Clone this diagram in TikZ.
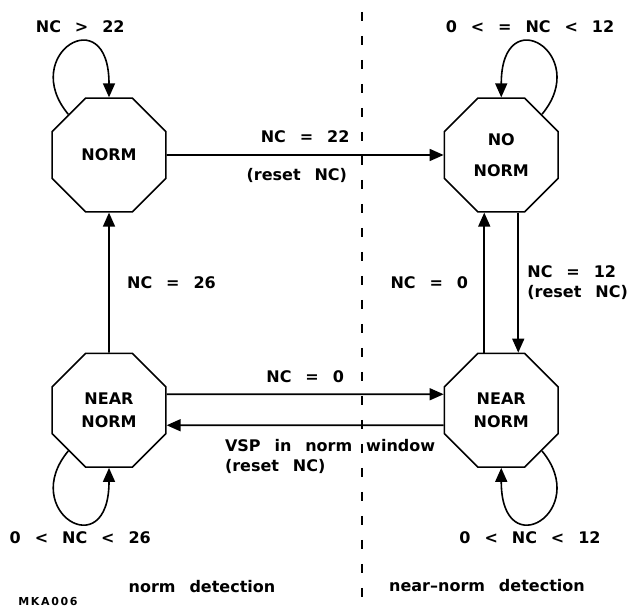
\documentclass[tikz,border=0pt]{standalone}
\usepackage{fontspec}
\setmainfont{DejaVu Sans}[WordSpace=2.5]
\newfontfamily\tagfont{DejaVu Sans}[LetterSpace=15]
\usetikzlibrary{arrows.meta,positioning,shapes.geometric}

\begin{document}
\begin{tikzpicture}[x=1pt,y=1pt,line width=1.6pt,
  state/.style={draw,regular polygon,regular polygon sides=8,minimum size=123pt,inner sep=0pt,align=center,font=\fontsize{16}{23}\selectfont\bfseries},
  lbl/.style={font=\fontsize{16}{20}\selectfont\bfseries,align=left},
  >={Triangle[length=14pt,width=12pt]},
  node distance=140pt and 277pt]
\useasboundingbox (0,0) rectangle (633,610);
\node[state] (norm) at (109,455) {NORM};
\node[state,right=of norm] (nonorm) {NO\\[8pt]NORM};
\node[state,below=of norm] (neara) {NEAR\\NORM};
\node[state,below=of nonorm] (nearb) {NEAR\\NORM};
% divider between the two halves
\coordinate (divtop) at (362,598);
\coordinate (divbot) at (362,0);
\draw[dash pattern=on 9pt off 15pt,line width=1.4pt] (divtop) -- (divbot);
\draw[->] (norm) -- node[lbl,above=8pt] {NC = 22} node[lbl,below=9pt,pos=0.47] {(reset NC)} (nonorm);
\draw[->] (neara) -- node[lbl,right=14pt] {NC = 26} (norm);
\draw[->] ([yshift=16pt]neara.east) -- node[lbl,above=7pt] {NC = 0} ([yshift=16pt]nearb.west);
\draw[->] ([yshift=-15pt]nearb.west) -- node[lbl,below=10pt,pos=0.41] {VSP in norm window\\(reset NC)} ([yshift=-15pt]neara.east);
\draw[->] ([xshift=-17pt]nearb.north) -- node[lbl,left=12pt] {NC = 0} ([xshift=-17pt]nonorm.south);
\draw[->] ([xshift=17pt]nonorm.south) -- node[lbl,right=5pt] {NC = 12\\(reset NC)} ([xshift=17pt]nearb.north);
% self loops
\draw[->] (norm.135) .. controls +(-50,60) and +(0,99) .. node[lbl,above=6pt,pos=0.6] {NC > 22} (norm.north);
\draw[->] (nonorm.45) .. controls +(50,60) and +(0,99) .. node[lbl,above=6pt,pos=0.6] {0 < = NC < 12} (nonorm.north);
\draw[->] (neara.225) .. controls +(-50,-60) and +(0,-99) .. node[lbl,below=6pt,pos=0.6] {0 < NC < 26} (neara.south);
\draw[->] (nearb.315) .. controls +(50,-60) and +(0,-99) .. node[lbl,below=6pt,pos=0.6] {0 < NC < 12} (nearb.south);
\node[lbl] (normside) at (202,23) {norm detection};
\node[lbl] (nearside) at (487,24) {near--norm detection};
\node[font=\tagfont\fontsize{11}{12}\selectfont\bfseries] (tag) at (48,8) {MKA006};
\end{tikzpicture}
\end{document}
